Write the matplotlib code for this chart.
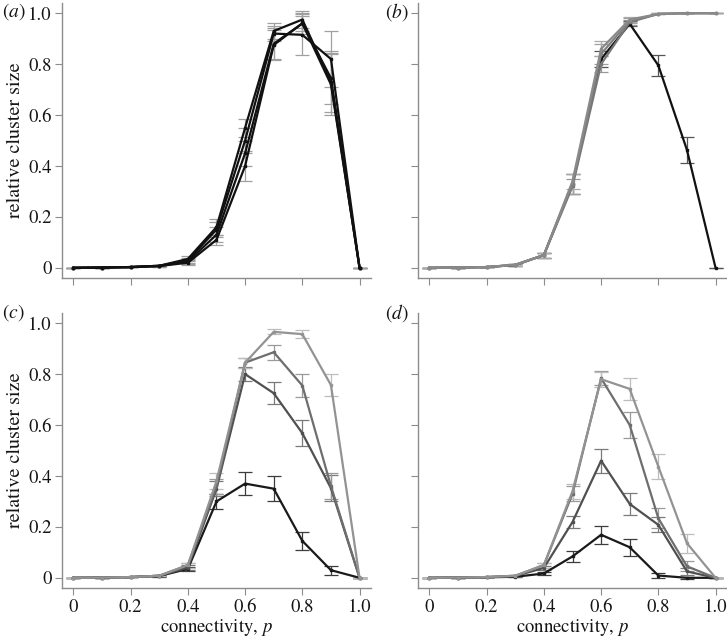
import numpy as np
import matplotlib
matplotlib.use("Agg")
from matplotlib import pyplot as plt

plt.rcParams['font.family'] = ['TeX Gyre Termes', 'STIXGeneral', 'Liberation Serif', 'DejaVu Serif']
plt.rcParams['mathtext.fontset'] = 'stix'

p = [0, 0.1, 0.2, 0.3, 0.4, 0.5, 0.6, 0.7, 0.8, 0.9, 1.0]

# panel (a): four black curves
a_vals = [
    [0, 0.001, 0.003, 0.008, 0.035, 0.16, 0.55, 0.93, 0.975, 0.73, 0],
    [0, 0.001, 0.003, 0.008, 0.030, 0.15, 0.50, 0.92, 0.915, 0.82, 0],
    [0, 0.001, 0.003, 0.007, 0.025, 0.13, 0.45, 0.88, 0.960, 0.745, 0],
    [0, 0.001, 0.003, 0.007, 0.020, 0.11, 0.40, 0.875, 0.960, 0.72, 0],
]
a_errs = [
    [0, 0, 0, 0.002, 0.01, 0.03, 0.035, 0.03, 0.035, 0.12, 0],
    [0, 0, 0, 0.002, 0.01, 0.03, 0.05, 0.03, 0.08, 0.11, 0],
    [0, 0, 0, 0.002, 0.01, 0.03, 0.05, 0.06, 0.03, 0.10, 0],
    [0, 0, 0, 0.002, 0.01, 0.02, 0.06, 0.06, 0.04, 0.12, 0],
]

# panel (b): one black curve and three grey
b_vals = [
    [0, 0.001, 0.003, 0.011, 0.05, 0.33, 0.82, 0.958, 0.795, 0.463, 0],
    [0, 0.001, 0.003, 0.011, 0.05, 0.32, 0.80, 0.965, 0.997, 1.0, 1.0],
    [0, 0.001, 0.003, 0.012, 0.05, 0.33, 0.84, 0.970, 0.997, 1.0, 1.0],
    [0, 0.001, 0.003, 0.012, 0.05, 0.34, 0.86, 0.975, 0.997, 1.0, 1.0],
]
b_errs = [
    [0, 0, 0, 0.003, 0.01, 0.04, 0.03, 0.01, 0.04, 0.05, 0],
    [0, 0, 0, 0.003, 0.01, 0.03, 0.03, 0.01, 0.002, 0, 0],
    [0, 0, 0, 0.003, 0.01, 0.04, 0.04, 0.01, 0.002, 0, 0],
    [0, 0, 0, 0.003, 0.01, 0.03, 0.03, 0.01, 0.002, 0, 0],
]

# panel (c)
c_vals = [
    [0, 0.001, 0.003, 0.007, 0.035, 0.30, 0.37, 0.35, 0.145, 0.03, 0],
    [0, 0.001, 0.003, 0.008, 0.040, 0.35, 0.80, 0.725, 0.568, 0.352, 0],
    [0, 0.001, 0.003, 0.008, 0.050, 0.36, 0.845, 0.886, 0.755, 0.36, 0],
    [0, 0.001, 0.003, 0.008, 0.050, 0.38, 0.845, 0.966, 0.957, 0.757, 0],
]
c_errs = [
    [0, 0, 0, 0.002, 0.008, 0.03, 0.044, 0.048, 0.036, 0.018, 0],
    [0, 0, 0, 0.002, 0.01, 0.03, 0.026, 0.043, 0.05, 0.05, 0],
    [0, 0, 0, 0.002, 0.01, 0.03, 0.02, 0.03, 0.044, 0.05, 0],
    [0, 0, 0, 0.002, 0.01, 0.03, 0.02, 0.01, 0.015, 0.043, 0],
]

# panel (d)
d_vals = [
    [0, 0.001, 0.002, 0.004, 0.017, 0.084, 0.169, 0.12, 0.009, 0.0, 0],
    [0, 0.001, 0.003, 0.007, 0.039, 0.219, 0.46, 0.29, 0.208, 0.025, 0],
    [0, 0.001, 0.003, 0.008, 0.050, 0.33, 0.784, 0.60, 0.234, 0.045, 0],
    [0, 0.001, 0.003, 0.008, 0.050, 0.34, 0.78, 0.742, 0.437, 0.136, 0],
]
d_errs = [
    [0, 0, 0, 0.002, 0.005, 0.02, 0.035, 0.034, 0.01, 0.003, 0],
    [0, 0, 0, 0.002, 0.008, 0.023, 0.047, 0.044, 0.03, 0.015, 0],
    [0, 0, 0, 0.002, 0.01, 0.03, 0.027, 0.05, 0.04, 0.02, 0],
    [0, 0, 0, 0.002, 0.01, 0.03, 0.03, 0.043, 0.05, 0.038, 0],
]

greys = ['#1a1a1a', '#505050', '#6e6e6e', '#939393']
grey_err = ['#3c3c3c', '#7a7a7a', '#9a9a9a', '#bdbdbd']

fig = plt.figure(figsize=(7.27, 6.37), dpi=100)
W, H = 727, 637

def make_ax(left, top):
    ax = fig.add_axes([left / W, 1 - (top + 275) / H, 309 / W, 275 / H])
    ax.set_xlim(-0.04, 1.04)
    ax.set_ylim(-0.04, 1.04)
    for s in ['top', 'right']:
        ax.spines[s].set_visible(False)
    for s in ['left', 'bottom']:
        ax.spines[s].set_color('#8c8c8c')
        ax.spines[s].set_linewidth(1.0)
    ax.tick_params(colors='#8c8c8c', length=5, width=0.8, labelcolor='#151515',
                   labelsize=13.5, direction='out', pad=2.5)
    ticks = [0, 0.2, 0.4, 0.6, 0.8, 1.0]
    labels = ['0', '0.2', '0.4', '0.6', '0.8', '1.0']
    ax.set_xticks(ticks)
    ax.set_yticks(ticks)
    ax.set_xticklabels(labels)
    ax.set_yticklabels(labels)
    return ax

def draw(ax, vals, errs, colors, ecolors):
    for v, e, c, ec in zip(vals, errs, colors, ecolors):
        ax.errorbar(p, v, yerr=e, fmt='none', ecolor=ec, elinewidth=0.9,
                    capsize=5, capthick=0.9, zorder=2)
    for v, c in zip(vals, colors):
        ax.plot(p, v, color=c, lw=1.6, marker='s', ms=2, zorder=3)

ax_a = make_ax(62, 3)
ax_b = make_ax(418, 3)
ax_c = make_ax(62, 313)
ax_d = make_ax(418, 313)

draw(ax_a, a_vals, a_errs, ['#111111'] * 4, ['#a0a0a0'] * 4)
draw(ax_b, b_vals, b_errs, ['#111111', '#777777', '#808080', '#8a8a8a'],
     ['#555555', '#999999', '#a0a0a0', '#aaaaaa'])
draw(ax_c, c_vals, c_errs, greys, grey_err)
draw(ax_d, d_vals, d_errs, greys, grey_err)

for ax in (ax_a, ax_b):
    ax.tick_params(labelbottom=False)
for ax in (ax_b, ax_d):
    ax.tick_params(labelleft=False)

for ax in (ax_a, ax_c):
    ax.set_ylabel('relative cluster size', fontsize=14.5, color='#151515', labelpad=3)
for ax in (ax_c, ax_d):
    ax.set_xlabel(r'connectivity, $p$', fontsize=13.5, color='#151515', labelpad=1)

for lab, x, y in [('a', 2, 12), ('b', 385, 12), ('c', 2, 313), ('d', 385, 313)]:
    fig.text(x / W, 1 - y / H, '($' + lab + '$)', fontsize=14, va='center',
             ha='left', color='#151515')

plt.savefig('out.png', dpi=100)
